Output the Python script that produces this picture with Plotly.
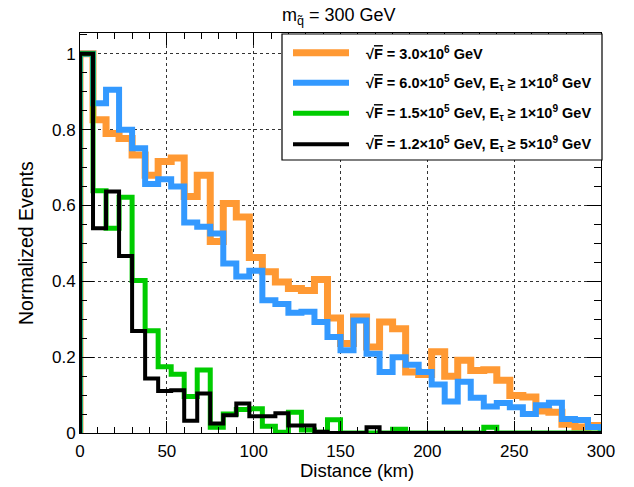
import numpy as np
import plotly.graph_objects as go

# ---- data (40 bins of 7.5 km between 0 and 300 km) ----
bin_width = 7.5
n_bins = 40

orange_vals = [1.0, 0.826, 0.79, 0.777, 0.733, 0.68, 0.716, 0.725, 0.624, 0.68,
               0.505, 0.605, 0.57, 0.463, 0.425, 0.398, 0.381, 0.376, 0.405, 0.303,
               0.236, 0.306, 0.227, 0.293, 0.275, 0.161, 0.154, 0.214, 0.15, 0.192,
               0.165, 0.167, 0.139, 0.099, 0.095, 0.058, 0.055, 0.023, 0.016, 0.02]

blue_vals = [1.0, 0.87, 0.905, 0.80, 0.751, 0.657, 0.669, 0.65, 0.555, 0.544,
             0.526, 0.447, 0.413, 0.428, 0.35, 0.34, 0.317, 0.32, 0.293, 0.253,
             0.218, 0.297, 0.209, 0.161, 0.2, 0.18, 0.161, 0.128, 0.083, 0.135,
             0.093, 0.07, 0.079, 0.068, 0.05, 0.073, 0.08, 0.037, 0.034, 0.016]

green_vals = [1.0, 0.639, 0.54, 0.622, 0.402, 0.27, 0.175, 0.155, 0.096, 0.166,
              0.015, 0.05, 0.062, 0.064, 0.018, 0.002, 0.055, 0.008, 0.002, 0.035,
              0.0, 0.0, 0.0, 0.0, 0.01, 0.0, 0.0, 0.0, 0.0, 0.0,
              0.0, 0.015, 0.0, 0.0, 0.0, 0.0, 0.0, 0.0, 0.0, 0.0]

black_vals = [1.0, 0.54, 0.637, 0.467, 0.269, 0.144, 0.111, 0.113, 0.032, 0.104,
              0.025, 0.047, 0.078, 0.044, 0.044, 0.052, 0.02, 0.02, 0.003, 0.0,
              0.0, 0.0, 0.015, 0.0, 0.0, 0.0, 0.0, 0.0, 0.0, 0.0,
              0.0, 0.0, 0.0, 0.0, 0.0, 0.0, 0.0, 0.0, 0.0, 0.0]

series_names = [
    "<b>√<span style='text-decoration:overline'>F</span> = 3.0×10<sup>6</sup> GeV</b>",
    "<b>√<span style='text-decoration:overline'>F</span> = 6.0×10<sup>5</sup> GeV, E<sub>τ</sub> ≥ 1×10<sup>8</sup> GeV</b>",
    "<b>√<span style='text-decoration:overline'>F</span> = 1.5×10<sup>5</sup> GeV, E<sub>τ</sub> ≥ 1×10<sup>9</sup> GeV</b>",
    "<b>√<span style='text-decoration:overline'>F</span> = 1.2×10<sup>5</sup> GeV, E<sub>τ</sub> ≥ 5×10<sup>9</sup> GeV</b>",
]
series_colors = ["#FF9933", "#3399FF", "#00CC00", "#000000"]
series_widths = [7, 6, 5, 4]
all_vals = [orange_vals, blue_vals, green_vals, black_vals]

x_ticks = [0, 50, 100, 150, 200, 250, 300]
y_ticks = [0, 0.2, 0.4, 0.6, 0.8, 1.0]
y_tick_text = ["0", "0.2", "0.4", "0.6", "0.8", "1"]

edges = np.arange(n_bins + 1) * bin_width

fig = go.Figure()
for vals, col, w in zip(all_vals, series_colors, series_widths):
    xs = [edges[0]] + list(edges) + [edges[-1]]
    ys = [0.0] + list(vals) + [vals[-1], 0.0]
    fig.add_trace(go.Scatter(x=xs, y=ys, mode="lines", line_shape="hv",
                             line=dict(color=col, width=w), showlegend=False,
                             hoverinfo="skip"))

FONT = "Liberation Sans, Arial, sans-serif"
axis_font = dict(family=FONT, size=17, color="black")
fig.update_xaxes(range=[0, 300], tickvals=x_ticks, ticks="inside", ticklen=12,
                 tickcolor="black", showline=True, linecolor="black", linewidth=1,
                 mirror="ticks", showgrid=True, gridcolor="#333", griddash="dot",
                 gridwidth=1, zeroline=False, tickfont=axis_font, ticklabelstandoff=3,
                 minor=dict(dtick=10, ticks="inside", ticklen=6, tickcolor="black",
                            showgrid=False))
fig.update_yaxes(range=[0, 1.055], tickvals=y_ticks, ticktext=y_tick_text,
                 ticks="inside", ticklen=14,
                 tickcolor="black", showline=True, linecolor="black", linewidth=1,
                 mirror="ticks", showgrid=True, gridcolor="#333", griddash="dot",
                 gridwidth=1, zeroline=False, tickfont=axis_font,
                 minor=dict(dtick=0.05, ticks="inside", ticklen=7, tickcolor="black",
                            showgrid=False))

L, R, T, B = 80, 33, 33, 54
W, H = 634, 487
pw, ph = W - L - R, H - T - B

def px(xpix):
    return (xpix - L) / pw

def py(ypix):
    return (H - B - ypix) / ph

annotations = []
shapes = []

# Title
annotations.append(dict(text="m<sub>q̃</sub> = 300 GeV", x=px(339), y=py(16), xref="paper",
                        yref="paper", showarrow=False, xanchor="center", yanchor="middle",
                        font=dict(family=FONT, size=18, color="black")))
# Axis titles
annotations.append(dict(text="Distance (km)", x=px(357), y=py(470), xref="paper", yref="paper",
                        showarrow=False, xanchor="center", yanchor="middle",
                        font=dict(family=FONT, size=18.5, color="black")))
annotations.append(dict(text="Normalized Events", x=px(26), y=py(243), xref="paper", yref="paper",
                        showarrow=False, xanchor="center", yanchor="middle", textangle=-90,
                        font=dict(family=FONT, size=19.5, color="black")))

# Legend box
shapes.append(dict(type="rect", xref="paper", yref="paper", x0=px(282), x1=px(602),
                   y0=py(160), y1=py(34), line=dict(color="black", width=1.2),
                   fillcolor="white", layer="above"))
row_y = [52.7, 82.7, 113.3, 144.3]
for name, col, w, ry in zip(series_names, series_colors, series_widths, row_y):
    shapes.append(dict(type="line", xref="paper", yref="paper", x0=px(293), x1=px(349),
                       y0=py(ry), y1=py(ry), line=dict(color=col, width=w), layer="above"))
    annotations.append(dict(text=name, x=px(364), y=py(ry), xref="paper", yref="paper",
                            showarrow=False, xanchor="left", yanchor="middle",
                            font=dict(family=FONT, size=14.5, color="black")))

fig.update_layout(width=W, height=H, margin=dict(l=L, r=R, t=T, b=B),
                  paper_bgcolor="white", plot_bgcolor="white",
                  annotations=annotations, shapes=shapes, showlegend=False)

fig.write_html("out.html")
